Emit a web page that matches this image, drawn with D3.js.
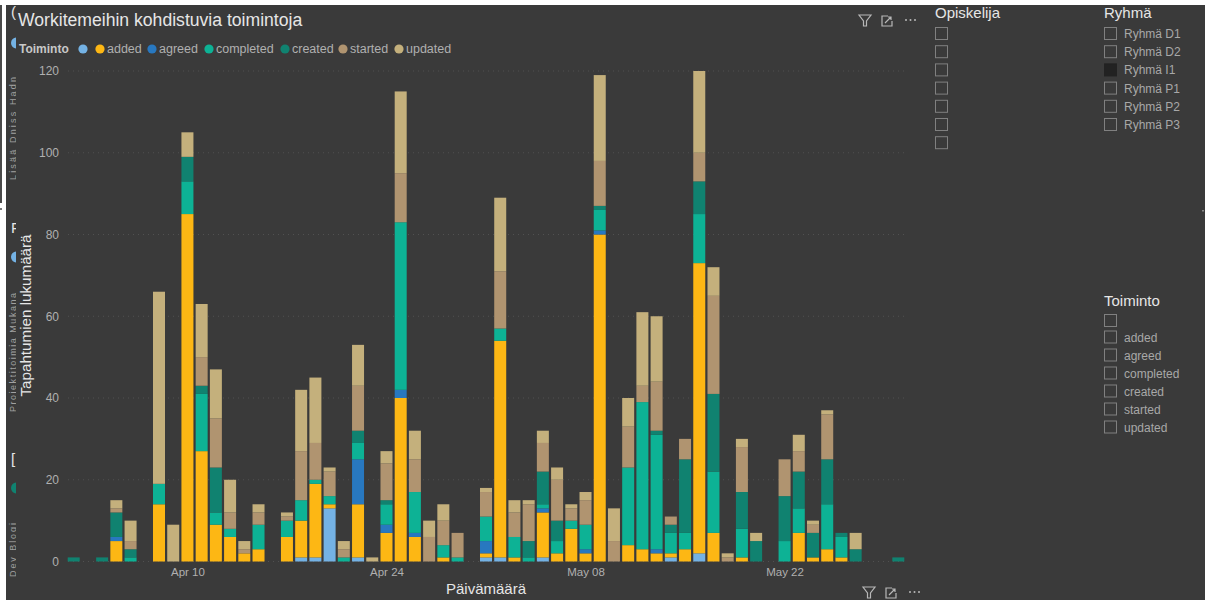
<!DOCTYPE html>
<html>
<head>
<meta charset="utf-8">
<style>
  html, body { margin: 0; padding: 0; background: #fff; }
  svg { display: block; font-family: "Liberation Sans", Arial, sans-serif; }
</style>
<script src="https://cdnjs.cloudflare.com/ajax/libs/d3/7.8.5/d3.min.js"></script>
</head>
<body>
<script>
const toiminnot = ["", "added", "agreed", "completed", "created", "started", "updated"];
const colors = ["#74B2E4", "#FDB714", "#2878C0", "#0DB295", "#108270", "#B09470", "#C4B07C"];

const paivat = ["2024-04-02","2024-04-04","2024-04-05","2024-04-06","2024-04-08","2024-04-09","2024-04-10","2024-04-11","2024-04-12","2024-04-13","2024-04-14","2024-04-15",
  "2024-04-17","2024-04-18","2024-04-19","2024-04-20","2024-04-21","2024-04-22","2024-04-23","2024-04-24","2024-04-25","2024-04-26","2024-04-27","2024-04-28","2024-04-29",
  "2024-05-01","2024-05-02","2024-05-03","2024-05-04","2024-05-05","2024-05-06","2024-05-07","2024-05-08","2024-05-09","2024-05-10","2024-05-11","2024-05-12","2024-05-13","2024-05-14","2024-05-15","2024-05-16","2024-05-17","2024-05-18","2024-05-19","2024-05-20",
  "2024-05-22","2024-05-23","2024-05-24","2024-05-25","2024-05-26","2024-05-27","2024-05-30"];

const tyhja     = [0,0,0,0,0,0,0,0,0,0,0,0, 0,1,1,13,0,1,0,0,0,0,0,0,0, 1,1,0,0,1,0,0,0,0,0,0,0,0,1,0,2,0,0,0,0, 0,0,0,0,0,0,0];
const added     = [0,0,5,0,14,0,85,27,9,6,2,3, 6,9,18,1,0,13,0,7,40,6,0,1,0, 1,53,1,0,11,2,8,2,80,0,4,3,2,1,3,71,7,0,1,0, 0,7,1,3,1,0,0];
const agreed    = [0,0,1,0,0,0,0,0,0,0,0,0, 0,0,0,0,0,11,0,2,2,1,0,0,0, 3,0,0,0,1,0,0,1,1,0,0,0,1,0,0,0,0,0,0,0, 0,0,0,0,0,0,0];
const completed = [0,0,0,1,5,0,8,14,3,2,0,6, 4,5,1,2,1,4,0,5,41,10,0,3,1, 6,3,5,1,1,3,2,6,5,0,19,36,28,5,4,12,15,0,7,0, 5,6,0,11,5,0,0];
const created   = [1,1,6,2,0,0,6,2,11,0,0,0, 0,0,0,0,0,3,0,1,0,0,0,0,0, 0,0,0,4,8,5,0,0,1,0,0,0,1,2,18,8,19,0,9,5, 11,9,6,11,1,3,1];
const started   = [0,0,1,2,0,0,0,7,12,4,1,3, 1,12,9,6,2,11,0,9,12,8,6,6,6, 6,14,6,9,7,10,3,6,11,5,10,4,12,2,5,7,24,1,11,0, 9,5,2,11,0,0,0];
const updated   = [0,0,2,5,47,9,6,13,12,8,2,2, 1,15,16,1,2,10,1,3,20,7,4,4,0, 1,18,3,1,3,3,1,2,21,8,7,18,16,0,0,20,7,1,2,2, 0,4,1,1,0,4,0];
const sarjat = [tyhja, added, agreed, completed, created, started, updated];

const xTicks = ["2024-04-10","2024-04-24","2024-05-08","2024-05-22"];
const yTicks = [0, 20, 40, 60, 80, 100, 120];
const opiskelijat = ["", "", "", "", "", "", ""];
const ryhmat = ["Ryhmä D1", "Ryhmä D2", "Ryhmä I1", "Ryhmä P1", "Ryhmä P2", "Ryhmä P3"];
const valittuRyhma = "Ryhmä I1";

const W = 1205, H = 600;
const BG = "#3A3A3A", TXT = "#E6E6E6", MUTED = "#B0B0B0";
const svg = d3.select("body").append("svg").attr("width", W).attr("height", H);

// report canvas with the light frame around it
svg.append("rect").attr("width", W).attr("height", H).attr("fill", "#fff");
svg.append("rect").attr("x", 6).attr("y", 5).attr("width", W - 6).attr("height", H - 5).attr("fill", BG);
svg.append("rect").attr("x", 0).attr("y", 5).attr("width", 2).attr("height", 198).attr("fill", "#4A4A4A");
svg.append("rect").attr("x", 0).attr("y", 208).attr("width", 2).attr("height", 2).attr("fill", "#777");
svg.append("rect").attr("x", 1202).attr("y", 210).attr("width", 2).attr("height", 1.5).attr("fill", "#888");

const parse = d3.utcParse("%Y-%m-%d");
const x = d3.scaleUtc().domain([parse("2024-04-02"), parse("2024-05-30")]).range([73.7, 898.3]);
const y = d3.scaleLinear().domain([0, 120]).range([561.5, 71]);
const barW = 12;

// horizontal dotted grid
svg.append("g").selectAll("line").data(yTicks).join("line")
  .attr("x1", 68).attr("x2", 905)
  .attr("y1", d => y(d)).attr("y2", d => y(d))
  .attr("stroke", "#515151").attr("stroke-dasharray", "1 4");

// stacked bars per day
const rows = paivat.map((d, i) => {
  const r = { date: parse(d) };
  toiminnot.forEach((t, k) => r["s" + k] = sarjat[k][i]);
  return r;
});
const stack = d3.stack().keys(toiminnot.map((t, k) => "s" + k))(rows);
svg.append("g").selectAll("g").data(stack).join("g")
  .attr("fill", (s, k) => colors[k])
  .selectAll("rect").data(s => s.filter(p => p[1] > p[0])).join("rect")
  .attr("x", p => x(p.data.date) - barW / 2)
  .attr("width", barW)
  .attr("y", p => y(p[1]))
  .attr("height", p => y(p[0]) - y(p[1]));

// axes
const yAxis = svg.append("g").attr("transform", "translate(59,0)")
  .call(d3.axisLeft(y).tickValues(yTicks).tickSize(0).tickPadding(0));
yAxis.select(".domain").remove();
yAxis.selectAll("text").attr("fill", MUTED).attr("font-size", 12).attr("font-family", "Liberation Sans");

const fmt = d3.utcFormat("%b %d");
const xAxis = svg.append("g").attr("transform", "translate(0,568)")
  .call(d3.axisBottom(x).tickValues(xTicks.map(parse)).tickFormat(fmt).tickSize(0).tickPadding(0));
xAxis.select(".domain").remove();
xAxis.selectAll("text").attr("fill", MUTED).attr("font-size", 11.5).attr("font-family", "Liberation Sans");

// titles
svg.append("text").attr("x", 18).attr("y", 26).attr("fill", TXT).attr("font-size", 17.6).text("Workitemeihin kohdistuvia toimintoja");
svg.append("text").attr("transform", "translate(31,315.5) rotate(-90)").attr("text-anchor", "middle")
  .attr("fill", TXT).attr("font-size", 15.2).text("Tapahtumien lukumäärä");
svg.append("text").attr("x", 486).attr("y", 594).attr("text-anchor", "middle")
  .attr("fill", TXT).attr("font-size", 15).text("Päivämäärä");

// legend row
svg.append("text").attr("x", 19).attr("y", 53).attr("fill", "#C8C8C8").attr("font-size", 12).attr("font-weight", "bold").text("Toiminto");
const legendX = [83, 100, 152, 209, 285, 343, 399];
const legend = svg.append("g").selectAll("g").data(toiminnot).join("g")
  .attr("transform", (d, i) => `translate(${legendX[i]},49)`);
legend.append("circle").attr("r", 4.6).attr("fill", (d, i) => colors[i]);
legend.append("text").attr("x", 7).attr("y", 4).attr("fill", MUTED).attr("font-size", 12.5).text(d => d);

// visual header icons
function headerIcons(ox, oy) {
  const g = svg.append("g").attr("transform", `translate(${ox},${oy})`).attr("fill", "none").attr("stroke", "#B8B8B8").attr("stroke-width", 1.2);
  g.append("path").attr("d", "M0 0 H12 L7.5 6 V11 L4.5 11 V6 Z");
  g.append("path").attr("d", "M29 1 H23 V11 H33 V6 M26 8 L32 2 M29 2 H32 V5");
  g.selectAll("circle.piste").data([0, 1, 2]).join("circle").attr("class", "piste")
    .attr("cx", d => 47 + d * 4.5).attr("cy", 5).attr("r", 1).attr("fill", "#B8B8B8").attr("stroke", "none");
}
headerIcons(859, 15);
headerIcons(863, 587);

// slicers on the right
function slicer(title, px, py, items, rivi) {
  const g = svg.append("g");
  g.append("text").attr("x", px).attr("y", py).attr("fill", TXT).attr("font-size", 15).text(title);
  const row = g.selectAll("g").data(items).join("g")
    .attr("transform", (d, i) => `translate(${px},${rivi(i)})`);
  row.append("rect").attr("x", 0.5).attr("y", 0.5).attr("width", 12).attr("height", 12)
    .attr("fill", d => d === valittuRyhma ? "#222" : "none")
    .attr("stroke", d => d === valittuRyhma ? "#222" : "#808080");
  row.append("text").attr("x", 20).attr("y", 11).attr("fill", "#A8A8A8").attr("font-size", 12).text(d => d);
}
slicer("Opiskelija", 935, 18, opiskelijat, i => 27 + i * 18.2);
slicer("Ryhmä", 1104, 18, ryhmat, i => 27 + i * 18.2);
slicer("Toiminto", 1104, 306, toiminnot, i => i === 0 ? 314 : 312.5 + i * 18);

// neighbouring page panel, cut off by the canvas edge
const clip = svg.append("clipPath").attr("id", "reunaLeikkaus");
clip.append("rect").attr("x", 6).attr("y", 5).attr("width", 10).attr("height", H);
const reuna = svg.append("g").attr("clip-path", "url(#reunaLeikkaus)");
const otsikot = [["(", 17], ["F", 233], ["[", 464]];
const pisteet = [[43, "#74B2E4"], [257, "#74B2E4"], [488, "#108270"]];
const sivuTekstit = [["Lisää Dniss Hadn", 180, 103], ["Projektitoimia Mukana", 412, 119], ["Dev Blogi", 577, 54]];
reuna.selectAll("text.otsikko").data(otsikot).join("text").attr("class", "otsikko")
  .attr("x", 11).attr("y", d => d[1]).attr("font-size", 15).attr("fill", TXT).text(d => d[0]);
reuna.selectAll("circle").data(pisteet).join("circle")
  .attr("cx", 16.5).attr("cy", d => d[0]).attr("r", 5.5).attr("fill", d => d[1]);
reuna.selectAll("text.sivu").data(sivuTekstit).join("text").attr("class", "sivu")
  .attr("transform", d => `translate(15.5,${d[1]}) rotate(-90)`)
  .attr("textLength", d => d[2]).attr("lengthAdjust", "spacing")
  .attr("fill", "#A0A0A0").attr("font-size", 9).text(d => d[0]);
</script>
</body>
</html>
